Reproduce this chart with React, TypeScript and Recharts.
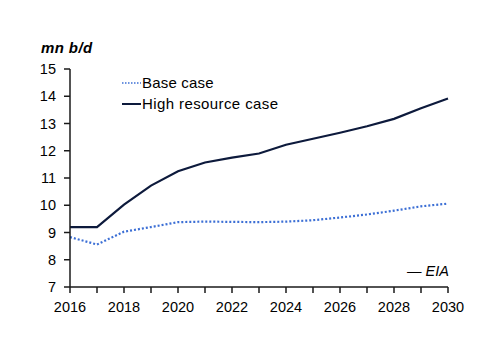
import React from 'react';
import { LineChart, Line, XAxis, YAxis } from 'recharts';

const years = [2016, 2017, 2018, 2019, 2020, 2021, 2022, 2023, 2024, 2025, 2026, 2027, 2028, 2029, 2030];
const baseCase = [8.83, 8.56, 9.03, 9.2, 9.38, 9.4, 9.39, 9.38, 9.4, 9.45, 9.55, 9.66, 9.8, 9.96, 10.06];
const highResource = [9.2, 9.2, 10.02, 10.72, 11.25, 11.57, 11.75, 11.9, 12.22, 12.44, 12.66, 12.9, 13.17, 13.56, 13.92];
const yTicks = [7, 8, 9, 10, 11, 12, 13, 14, 15];
const seriesNames = ['Base case', 'High resource case'];

const data = years.map((y, i) => ({ year: y, base: baseCase[i], high: highResource[i] }));

const FONT = '"Liberation Sans", Arial, sans-serif';
const BASE_COLOR = '#3c6fd5';
const HIGH_COLOR = '#0d1a3c';
const AXIS_COLOR = '#1a1a1a';

export default function App() {
  return (
    <div style={{ position: 'absolute', left: 0, top: 0, width: 500, height: 353, background: '#fff' }}>
      <LineChart width={500} height={353} data={data} margin={{ top: 69, right: 52, bottom: 36, left: 0 }}>
        <XAxis
          dataKey="year"
          type="number"
          domain={[2016, 2030]}
          ticks={years}
          interval={0}
          tickFormatter={(v: number) => (v % 2 === 0 ? String(v) : '')}
          axisLine={{ stroke: AXIS_COLOR, strokeWidth: 1.5 }}
          tickLine={{ stroke: AXIS_COLOR, strokeWidth: 1.5 }}
          tickSize={6}
          tickMargin={9}
          tick={{ fill: '#000', fontSize: 14.5, fontFamily: FONT }}
          height={30}
        />
        <YAxis
          domain={[7, 15]}
          ticks={yTicks}
          interval={0}
          axisLine={{ stroke: AXIS_COLOR, strokeWidth: 1.5 }}
          tickLine={{ stroke: AXIS_COLOR, strokeWidth: 1.5 }}
          tickSize={6}
          tickMargin={8}
          tick={{ fill: '#000', fontSize: 14.5, fontFamily: FONT }}
          width={70}
        />
        <Line type="linear" dataKey="base" stroke={BASE_COLOR} strokeWidth={2.2} strokeDasharray="2 2" dot={false} isAnimationActive={false} />
        <Line type="linear" dataKey="high" stroke={HIGH_COLOR} strokeWidth={2.2} dot={false} isAnimationActive={false} />
      </LineChart>
      <div style={{ position: 'absolute', left: 122, top: 73, fontFamily: FONT, fontSize: 15, color: '#000', lineHeight: '20.5px' }}>
        <div style={{ display: 'flex', alignItems: 'center' }}>
          <svg width={20} height={10}><line x1={0} y1={5} x2={19} y2={5} stroke={BASE_COLOR} strokeWidth={1.6} strokeDasharray="1.5 1.5" /></svg>
          <span style={{ letterSpacing: 0.2 }}>{seriesNames[0]}</span>
        </div>
        <div style={{ display: 'flex', alignItems: 'center' }}>
          <svg width={20} height={10}><line x1={0} y1={5} x2={19} y2={5} stroke={HIGH_COLOR} strokeWidth={2} /></svg>
          <span style={{ letterSpacing: 0.4 }}>{seriesNames[1]}</span>
        </div>
      </div>
      <div style={{ position: 'absolute', left: 41, top: 39, fontFamily: FONT, fontSize: 15, fontWeight: 'bold', fontStyle: 'italic', letterSpacing: 0.4 }}>mn b/d</div>
      <div style={{ position: 'absolute', left: 407, top: 263, fontFamily: FONT, fontSize: 14.5, fontStyle: 'italic' }}>— EIA</div>
    </div>
  );
}
